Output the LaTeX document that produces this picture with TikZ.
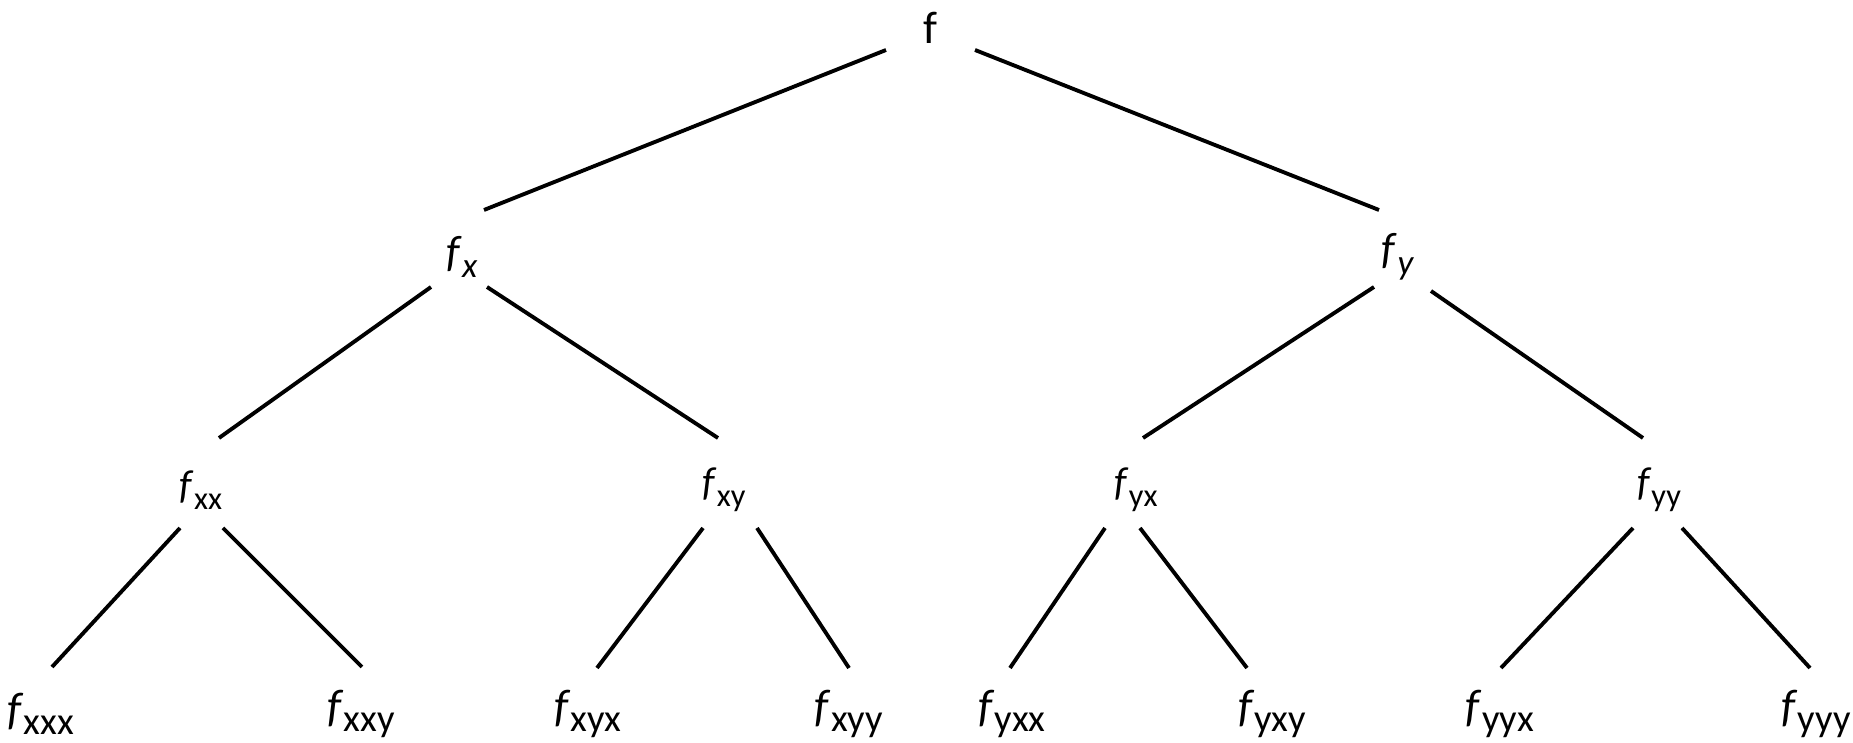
\documentclass[tikz,border=0pt]{standalone}
\usepackage{fontspec}
\setmainfont{Carlito}

% f with a lowered subscript: #1 subscript size, #2 subscript
\newcommand{\pd}[2]{\textit{f}\raisebox{-3pt}{\fontsize{#1}{#1}\selectfont #2}}

\tikzset{
  lvroot/.style={inner sep=0pt, font=\fontsize{13}{15}\selectfont},
  lvone/.style={inner sep=0pt, font=\fontsize{12.5}{15}\selectfont},
  lvtwo/.style={inner sep=0pt, font=\fontsize{11.5}{13}\selectfont},
  lvthree/.style={inner sep=0pt, font=\fontsize{13}{15}\selectfont},
  branch/.style={line width=1.1pt}
}

\begin{document}
\begin{tikzpicture}
    \useasboundingbox (0,0) rectangle (18.53,-7.43);

    \node[lvroot] (f) at (9.30,-0.28) {f};

    \node[lvone] (fx) at (4.62,-2.57) {\pd{10pt}{\textit{x}}};
    \node[lvone] (fy) at (13.98,-2.57) {\pd{10pt}{\textit{y}}};

    \node[lvtwo] (fxx) at (2.01,-4.90) {\pd{9.2pt}{xx}};
    \node[lvtwo] (fxy) at (7.24,-4.90) {\pd{9.2pt}{xy}};
    \node[lvtwo] (fyx) at (11.36,-4.90) {\pd{9.2pt}{yx}};
    \node[lvtwo] (fyy) at (16.59,-4.90) {\pd{9.2pt}{yy}};

    \node[lvthree] (fxxx) at (0.41,-7.14) {\pd{11pt}{xxx}};
    \node[lvthree] (fxxy) at (3.61,-7.14) {\pd{11pt}{xxy}};
    \node[lvthree] (fxyx) at (5.88,-7.14) {\pd{11pt}{xyx}};
    \node[lvthree] (fxyy) at (8.49,-7.14) {\pd{11pt}{xyy}};
    \node[lvthree] (fyxx) at (10.12,-7.14) {\pd{11pt}{yxx}};
    \node[lvthree] (fyxy) at (12.72,-7.14) {\pd{11pt}{yxy}};
    \node[lvthree] (fyyx) at (15.00,-7.14) {\pd{11pt}{yyx}};
    \node[lvthree] (fyyy) at (18.16,-7.14) {\pd{11pt}{yyy}};

    % first derivatives
    \draw[branch] ([shift={(-0.44,-0.22)}]f.center) -- ([shift={(0.22,0.47)}]fx.center);
    \draw[branch] ([shift={(0.45,-0.22)}]f.center) -- ([shift={(-0.19,0.47)}]fy.center);

    % second derivatives
    \draw[branch] ([shift={(-0.31,-0.30)}]fx.center) -- ([shift={(0.18,0.52)}]fxx.center);
    \draw[branch] ([shift={(0.25,-0.30)}]fx.center) -- ([shift={(-0.06,0.52)}]fxy.center);
    \draw[branch] ([shift={(-0.24,-0.30)}]fy.center) -- ([shift={(0.07,0.52)}]fyx.center);
    \draw[branch] ([shift={(0.33,-0.34)}]fy.center) -- ([shift={(-0.16,0.52)}]fyy.center);

    % third derivatives
    \draw[branch] ([shift={(-0.21,-0.38)}]fxx.center) -- ([shift={(0.11,0.47)}]fxxx.center);
    \draw[branch] ([shift={(0.22,-0.38)}]fxx.center) -- ([shift={(0.01,0.47)}]fxxy.center);
    \draw[branch] ([shift={(-0.21,-0.38)}]fxy.center) -- ([shift={(0.09,0.46)}]fxyx.center);
    \draw[branch] ([shift={(0.33,-0.38)}]fxy.center) -- ([shift={(0.00,0.46)}]fxyy.center);
    \draw[branch] ([shift={(-0.31,-0.38)}]fyx.center) -- ([shift={(-0.02,0.46)}]fyxx.center);
    \draw[branch] ([shift={(0.04,-0.38)}]fyx.center) -- ([shift={(-0.25,0.46)}]fyxy.center);
    \draw[branch] ([shift={(-0.26,-0.38)}]fyy.center) -- ([shift={(0.01,0.46)}]fyyx.center);
    \draw[branch] ([shift={(0.23,-0.38)}]fyy.center) -- ([shift={(-0.06,0.46)}]fyyy.center);
\end{tikzpicture}
\end{document}
